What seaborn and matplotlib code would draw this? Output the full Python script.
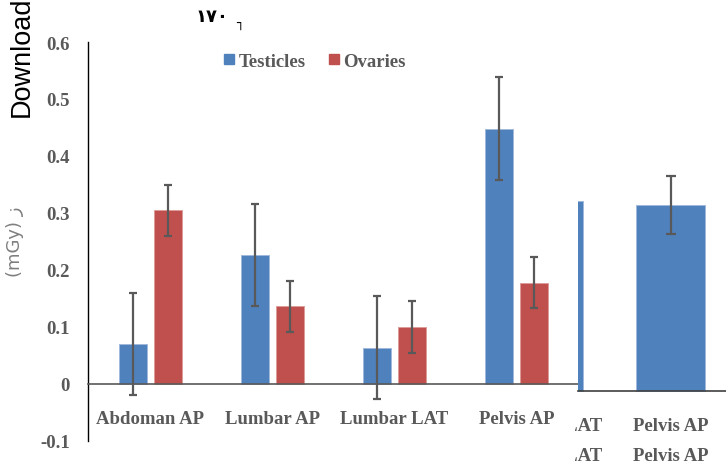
import pandas as pd
import matplotlib
matplotlib.use("Agg")
import matplotlib.pyplot as plt
from matplotlib.lines import Line2D
from matplotlib.transforms import Bbox, TransformedBbox
import seaborn as sns

# main chart data
categories = ["Abdoman AP", "Lumbar AP", "Lumbar LAT", "Pelvis AP"]
testicles = [0.070, 0.226, 0.064, 0.448]
testicles_err = [0.090, 0.090, 0.090, 0.090]
ovaries = [0.305, 0.136, 0.100, 0.178]
ovaries_err = [0.045, 0.045, 0.045, 0.045]
y_ticks = [-0.1, 0, 0.1, 0.2, 0.3, 0.4, 0.5, 0.6]
y_tick_labels = ["-0.1", "0", "0.1", "0.2", "0.3", "0.4", "0.5", "0.6"]

# overlapping fragment on the right
side_categories = ["Lumbar LAT", "Pelvis AP"]
side_values = [0.333, 0.326]
side_err = [0.0, 0.051]

BLUE = "#4F81BD"
RED = "#C0504D"
GREY = "#595959"
SERIF = "Liberation Serif"

sns.set_style("white")
W, H = 726, 464
fig = plt.figure(figsize=(W / 100, H / 100), dpi=100)


def px_box(x0, y0, x1, y1):
    return [x0 / W, 1 - y1 / H, (x1 - x0) / W, (y1 - y0) / H]


df = pd.DataFrame({
    "view": categories * 2,
    "dose": testicles + ovaries,
    "organ": ["Testicles"] * 4 + ["Ovaries"] * 4,
})

ax = fig.add_axes(px_box(88, 43, 578, 442))
sns.barplot(data=df, x="view", y="dose", hue="organ", palette=[BLUE, RED],
            width=0.574, gap=0.2, errorbar=None, legend=False, saturation=1,
            ax=ax)

errs = testicles_err + ovaries_err
for patch, err in zip(ax.patches, errs):
    patch.set_edgecolor("#9fb8dc" if patch.get_facecolor()[2] > 0.5 else "#dc9c9a")
    patch.set_linewidth(0.7)
    cx = patch.get_x() + patch.get_width() / 2
    ax.errorbar(cx, patch.get_height(), yerr=err, color=GREY, lw=1.6,
                capsize=2.8, capthick=1.6, zorder=5)

ax.set_ylim(-0.1, 0.6)
ax.set_yticks(y_ticks, labels=y_tick_labels)
ax.set_xlim(-0.512, (578 - 150.5) / 122)
ax.set_xlabel("")
ax.set_ylabel("")
for s in ["top", "right"]:
    ax.spines[s].set_visible(False)
ax.spines["left"].set_color("black")
ax.spines["left"].set_linewidth(1)
ax.spines["bottom"].set_position(("data", 0))
ax.spines["bottom"].set_color(GREY)
ax.spines["bottom"].set_linewidth(1.2)
ax.tick_params(axis="y", length=0, pad=13)
ax.tick_params(axis="x", length=0, pad=19)
for lab in ax.get_xticklabels() + ax.get_yticklabels():
    lab.set_fontfamily(SERIF)
    lab.set_fontweight("bold")
    lab.set_fontsize(13.5)
    lab.set_color(GREY)

handles = [Line2D([], [], ls="", marker="s", ms=7, color=c) for c in (BLUE, RED)]
fig.legend(handles, ["Testicles", "Ovaries"], loc="center", ncol=2,
           bbox_to_anchor=(314.5 / W, 1 - 62 / H), frameon=False,
           handlelength=0.6, handletextpad=0.2, columnspacing=1.2,
           prop={"family": SERIF, "weight": "bold", "size": 13.5},
           labelcolor=GREY)

# right fragment
side_df = pd.DataFrame({"view": side_categories, "dose": side_values})
ax2 = fig.add_axes(px_box(578, 43, 726, 442))
ax2.set_facecolor("white")
sns.barplot(data=side_df, x="view", y="dose", color=BLUE, width=0.566,
            errorbar=None, saturation=1, ax=ax2)
for patch in ax2.patches:
    patch.set_edgecolor("#9fb8dc")
    patch.set_linewidth(0.7)
p = ax2.patches[1]
ax2.errorbar(p.get_x() + p.get_width() / 2, p.get_height(), yerr=side_err[1],
             color=GREY, lw=1.6, capsize=3.8, capthick=1.6, zorder=5)
ax2.set_xticks([])
ax2.set_xlim((578 - 670.5) / 122 + 1, (726 - 670.5) / 122 + 1)
ax2.set_ylim(-50 / 570, 349 / 570)
ax2.set_yticks([])
ax2.set_xlabel("")
ax2.set_ylabel("")
for s in ["top", "right", "left"]:
    ax2.spines[s].set_visible(False)
ax2.spines["bottom"].set_position(("data", 0))
ax2.spines["bottom"].set_color("#404040")
ax2.spines["bottom"].set_linewidth(1.2)

# category labels of the fragment, cut off at its left edge
clip = TransformedBbox(Bbox([[575 / W, 0], [1, 1]]), fig.transFigure)
for i, name in enumerate(side_categories):
    t = ax2.annotate(name + "\n" + name, xy=(i, 0), xytext=(0, -19),
                     textcoords="offset points", ha="center", va="top",
                     fontfamily=SERIF, fontweight="bold", fontsize=13.5,
                     color=GREY, linespacing=2.0, annotation_clip=False)
    t.set_clip_box(clip)
    t.set_clip_on(True)

# stray text around the chart
fig.text(22 / W, 1 - 117 / H, "Download", rotation=90, ha="center", va="bottom",
         fontsize=19.5, family="Liberation Sans", color="black")
fig.text(15 / W, 1 - 242 / H, "(mGy) ز", rotation=90, ha="center", va="center",
         fontsize=13, family=["DejaVu Sans"], color="#7f7f7f")
fig.text(212 / W, 1 - 17 / H, "۱۷۰", ha="center", va="center",
         fontsize=13, family=["DejaVu Sans"], fontweight="bold", color="black")
fig.text(240 / W, 1 - 23 / H, "┐", ha="center", va="center",
         fontsize=9, family=["DejaVu Sans"], color="black")

fig.savefig("out.png", dpi=100)
